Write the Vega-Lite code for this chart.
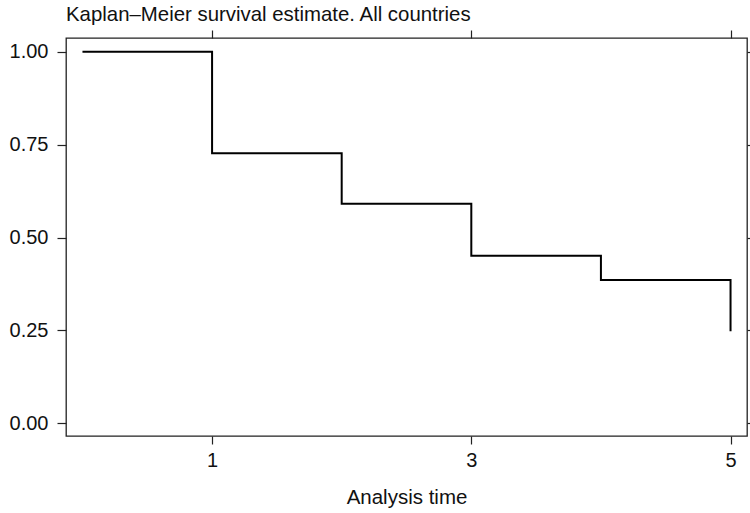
{
  "$schema": "https://vega.github.io/schema/vega-lite/v6.json",
  "autosize": {"type": "none"},
  "padding": {"left": 66, "top": 38, "right": 3, "bottom": 77},
  "width": 681,
  "height": 398,
  "background": "white",
  "title": {
    "text": "Kaplan–Meier survival estimate. All countries",
    "anchor": "start",
    "frame": "group",
    "font": "Liberation Sans",
    "fontSize": 20.4,
    "fontWeight": "normal",
    "color": "#111",
    "baseline": "alphabetic",
    "offset": -12
  },
  "config": {
    "view": {"stroke": "#222", "strokeWidth": 1.3},
    "axis": {
      "grid": false,
      "domain": false,
      "tickColor": "#222",
      "tickWidth": 1.2,
      "labelFont": "Liberation Sans",
      "labelFontSize": 20,
      "labelColor": "#111",
      "titleFont": "Liberation Sans",
      "titleFontSize": 20.5,
      "titleFontWeight": "normal",
      "titleColor": "#111"
    }
  },
  "data": {
    "values": [
      {"t": 0, "s": 1.0},
      {"t": 1, "s": 0.727},
      {"t": 2, "s": 0.591},
      {"t": 3, "s": 0.451},
      {"t": 4, "s": 0.386},
      {"t": 5, "s": 0.386},
      {"t": 5, "s": 0.248}
    ]
  },
  "layer": [
    {
      "mark": {"type": "line", "interpolate": "step-after", "color": "black", "strokeWidth": 2},
      "encoding": {
        "x": {
          "field": "t", "type": "quantitative",
          "scale": {"domain": [-0.127, 5.127], "nice": false, "zero": false},
          "axis": {"orient": "bottom", "values": [1, 3, 5], "title": "Analysis time", "tickSize": 8, "labelPadding": 6, "titlePadding": 17}
        },
        "y": {
          "field": "s", "type": "quantitative",
          "scale": {"domain": [-0.034, 1.037], "nice": false, "zero": false},
          "axis": {"orient": "left", "values": [0, 0.25, 0.5, 0.75, 1], "format": ".2f", "title": null, "tickSize": 9, "labelPadding": 9}
        }
      }
    },
    {
      "mark": {"type": "line", "opacity": 0},
      "encoding": {
        "x": {
          "field": "t", "type": "quantitative",
          "axis": {"orient": "top", "values": [1, 3, 5], "labels": false, "title": null, "tickSize": 8}
        },
        "y": {
          "field": "s", "type": "quantitative",
          "axis": {"orient": "right", "values": [0, 0.25, 0.5, 0.75, 1], "labels": false, "title": null, "tickSize": 8}
        }
      }
    }
  ],
  "resolve": {"axis": {"x": "independent", "y": "independent"}}
}
